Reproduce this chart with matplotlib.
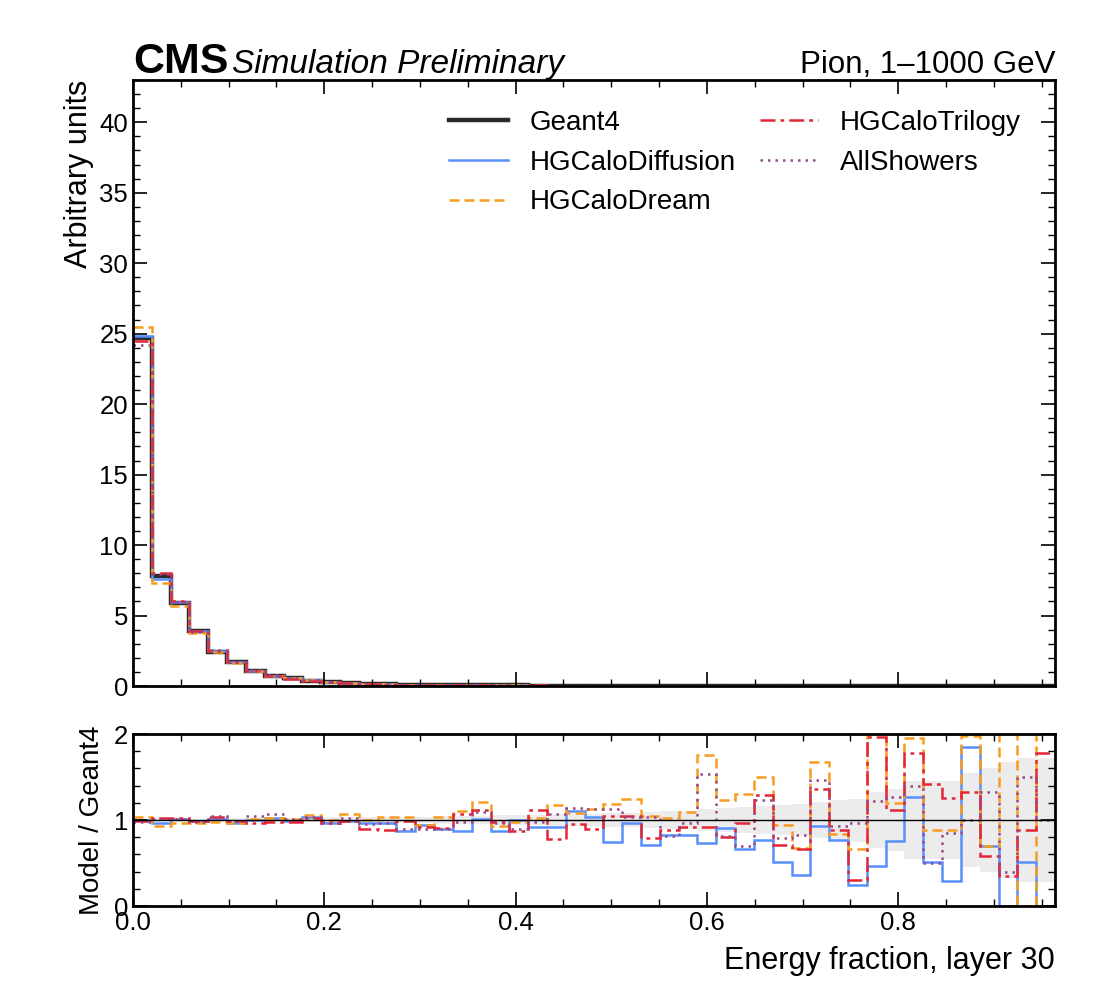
import numpy as np
import matplotlib
matplotlib.use("Agg")
import matplotlib.pyplot as plt
from matplotlib.ticker import MultipleLocator

plt.rcParams['font.family'] = ['Liberation Sans', 'DejaVu Sans']

# 49 bins in energy fraction
edges = np.linspace(0, 0.964, 50)

names = ["Geant4", "HGCaloDiffusion", "HGCaloDream", "HGCaloTrilogy", "AllShowers"]

# Geant4 reference histogram (normalised)
geant4 = [24.7, 7.84, 5.89, 3.91, 2.43, 1.72, 1.08, 0.71, 0.54, 0.38, 0.26, 0.19,
          0.15, 0.12, 0.10, 0.085, 0.072, 0.061, 0.052, 0.045, 0.039, 0.034, 0.030,
          0.026, 0.023, 0.020, 0.018, 0.016, 0.014, 0.012, 0.011, 0.010, 0.009,
          0.008, 0.007, 0.006, 0.0055, 0.005, 0.0045, 0.004, 0.0035, 0.003, 0.0028,
          0.0025, 0.0022, 0.002, 0.0018, 0.0016, 0.0015]

# model / Geant4 ratios
ratio_diffusion = [1.005, 0.97, 1.01, 0.99, 1.01, 0.97, 1.00, 1.02, 0.99, 1.03,
                   0.97, 0.99, 0.97, 0.97, 0.87, 0.94, 0.90, 0.87, 1.01, 0.87,
                   1.00, 0.92, 0.92, 1.10, 1.04, 0.75, 0.96, 0.71, 0.83, 0.83,
                   0.73, 0.91, 0.66, 0.77, 0.51, 0.36, 0.93, 0.77, 0.25, 0.46,
                   0.76, 1.27, 0.51, 0.29, 1.85, 0.70, 0.0, 0.51, 0.0]
ratio_dream = [1.03, 0.93, 0.96, 0.97, 0.98, 0.96, 1.01, 1.02, 1.01, 1.06,
               1.00, 1.07, 1.00, 1.03, 1.03, 0.94, 1.03, 1.11, 1.21, 0.93,
               0.98, 1.02, 1.17, 1.08, 1.13, 1.19, 1.24, 1.05, 1.02, 1.09,
               1.76, 1.23, 1.30, 1.50, 0.94, 0.67, 1.67, 0.84, 0.66, 2.2,
               1.20, 1.95, 0.88, 0.88, 1.98, 0.70, 2.4, 0.0, 2.5]
ratio_trilogy = [0.99, 1.02, 1.02, 0.99, 1.03, 0.99, 0.97, 0.98, 0.98, 1.02,
                 0.97, 0.99, 0.90, 0.88, 0.99, 0.92, 0.91, 1.07, 1.12, 0.98,
                 0.87, 1.12, 0.78, 0.95, 0.90, 1.05, 1.05, 0.79, 0.88, 0.92,
                 0.92, 0.80, 0.97, 1.29, 0.71, 0.66, 1.36, 0.88, 0.30, 1.97,
                 1.12, 1.78, 1.42, 1.26, 1.33, 0.58, 0.35, 0.88, 1.78]
ratio_allshowers = [0.98, 1.01, 1.01, 0.98, 1.05, 0.99, 1.05, 1.07, 1.01, 1.03,
                    0.98, 1.02, 0.95, 0.96, 0.89, 0.90, 0.90, 0.98, 1.09, 0.97,
                    0.90, 0.98, 1.07, 1.14, 1.13, 1.13, 1.03, 1.03, 0.81, 0.96,
                    1.53, 0.81, 0.70, 1.23, 0.79, 0.83, 1.47, 0.93, 0.96, 1.22,
                    1.27, 1.40, 0.50, 0.85, 1.00, 1.33, 0.39, 1.50, 1.00]

# relative stat. uncertainty of Geant4 (grey band)
g4_err = [0.01, 0.01, 0.01, 0.015, 0.015, 0.02, 0.02, 0.02, 0.025, 0.025,
          0.03, 0.03, 0.035, 0.035, 0.04, 0.04, 0.045, 0.05, 0.05, 0.055,
          0.06, 0.06, 0.065, 0.07, 0.075, 0.08, 0.085, 0.09, 0.10, 0.11,
          0.13, 0.14, 0.15, 0.16, 0.17, 0.19, 0.21, 0.23, 0.25, 0.32,
          0.36, 0.45, 0.45, 0.45, 0.55, 0.60, 0.68, 0.72, 0.72]

colors = ["#2b2b2b", "#5790fc", "#f89c20", "#e42536", "#964a8b"]
styles = ["-", "-", (0, (4, 2)), (0, (6, 2, 1.5, 2)), (0, (1, 2))]
widths = [3.2, 1.8, 1.8, 1.8, 1.8]

ratios = [ratio_diffusion, ratio_dream, ratio_trilogy, ratio_allshowers]
g4 = np.array(geant4)

fig = plt.figure(figsize=(11, 10.08), dpi=100)
W, H = 1100, 1008
ax = fig.add_axes([133 / W, 1 - 686 / H, 922 / W, 606 / H])
rax = fig.add_axes([133 / W, 1 - 906 / H, 922 / W, 172 / H])

# top panel
ax.stairs(g4, edges, baseline=None, color=colors[0], lw=widths[0], label=names[0])
for i, r in enumerate(ratios):
    ax.stairs(g4 * np.array(r), edges, baseline=None, color=colors[i + 1],
              ls=styles[i + 1], lw=widths[i + 1], label=names[i + 1])

ax.set_xlim(0, edges[-1])
ax.set_ylim(0, 43)
ax.set_ylabel("Arbitrary units", fontsize=22, loc="top")
ax.tick_params(labelbottom=False)

ax.legend(ncol=2, loc="upper left", bbox_to_anchor=(0.343, 0.951), frameon=False,
          fontsize=20, handlelength=2.1, handletextpad=0.8, columnspacing=0.85,
          labelspacing=0.5, borderaxespad=0, borderpad=0)

ax.text(0, 1.012, "CMS", transform=ax.transAxes, fontsize=31, fontweight="bold",
        va="baseline", ha="left")
ax.text(0.107, 1.012, "Simulation Preliminary", transform=ax.transAxes, fontsize=24,
        style="italic", va="baseline", ha="left")
ax.text(1.0, 1.012, "Pion, 1\u20131000 GeV", transform=ax.transAxes, fontsize=22.5,
        va="baseline", ha="right")

# ratio panel
err = np.array(g4_err)
rax.stairs(1 + err, edges, baseline=1 - err, fill=True, color="#ececec", lw=0)
rax.axhline(1, color="black", lw=1)
for i, r in enumerate(ratios):
    rax.stairs(r, edges, baseline=None, color=colors[i + 1], ls=styles[i + 1],
               lw=widths[i + 1])
rax.set_xlim(0, edges[-1])
rax.set_ylim(0, 2)
rax.set_yticks([0, 1, 2])
rax.set_xticks([0.0, 0.2, 0.4, 0.6, 0.8])
rax.set_xticklabels(["0.0", "0.2", "0.4", "0.6", "0.8"])
rax.yaxis.set_minor_locator(MultipleLocator(0.2))
rax.set_ylabel("Model / Geant4", fontsize=20, labelpad=6)
rax.set_xlabel("Energy fraction, layer 30", fontsize=22, loc="right", labelpad=8)

ax.xaxis.set_minor_locator(MultipleLocator(0.05))
rax.xaxis.set_minor_locator(MultipleLocator(0.05))
ax.yaxis.set_minor_locator(MultipleLocator(1))

for a in (ax, rax):
    for s in a.spines.values():
        s.set_linewidth(2)
    a.tick_params(which="both", direction="in", top=True, right=True, labelsize=18.5)
    a.tick_params(which="major", length=10, width=1.2)
    a.tick_params(which="minor", length=5, width=1)

fig.savefig("out.png", dpi=100)
